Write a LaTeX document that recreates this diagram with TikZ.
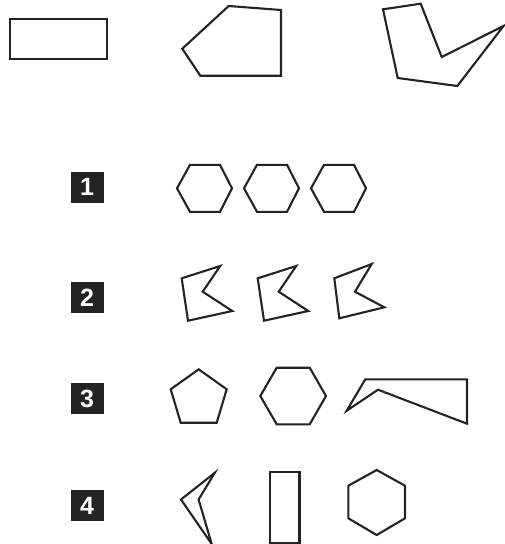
\documentclass[tikz,border=0pt]{standalone}
\usepackage{fontspec}
\setsansfont{Liberation Sans}
\definecolor{inkgray}{RGB}{35,35,35}
\tikzset{
  shape line/.style={line width=2.1pt,draw=inkgray},
  item label/.style={
    fill=inkgray,
    text=white,
    minimum width=33pt,
    minimum height=31pt,
    inner sep=0pt,
    font=\sffamily\bfseries\fontsize{25}{25}\selectfont
  }
}
\newcommand{\flathex}[2]{%
  \draw[shape line] (#1,#2) -- ++(13,-23.5) -- ++(30,0) -- ++(12,23.5)
    -- ++(-12,23.5) -- ++(-30,0) -- cycle;%
}
\newcommand{\bentkite}[2]{%
  \begin{scope}[shift={(#1,#2)}]
    \draw[shape line] (0,0) -- (38.5,-12.3) -- (21,13.4) -- (50.6,32.7)
      -- (6.3,42.4) -- cycle;
  \end{scope}%
}
\begin{document}
\begin{tikzpicture}[x=1pt,y=-1pt]
  \useasboundingbox (0,0) rectangle (504,544);

  % top row
  \draw[shape line] (10,19) rectangle (107,59);
  \draw[shape line] (228.7,6) -- (281,10) -- (281,75.7) -- (200.3,75.7)
    -- (182.3,48.7) -- cycle;
  \draw[shape line] (383,9.3) -- (420.7,3.7) -- (441.7,57) -- (503.5,26)
    -- (457.3,86) -- (397.7,78) -- cycle;

  % labels
  \node[item label] (lab1) at (87,187) {1};
  \node[item label] (lab2) at (87,297.5) {2};
  \node[item label] (lab3) at (87,398.5) {3};
  \node[item label] (lab4) at (87,505.5) {4};

  % row 1
  \foreach \x in {177,244,311} {
    \flathex{\x}{188.3}
  }

  % row 2
  \bentkite{181.7}{278.3}
  \bentkite{257.7}{278.3}
  \draw[shape line] (334.3,278.3) -- (371.7,264) -- (355,291.7) -- (384.3,307.3)
    -- (339.3,318.3) -- cycle;

  % row 3
  \draw[shape line] (198.7,369.3) -- (226.7,389.3) -- (216.7,422.7)
    -- (180.7,422.7) -- (170.7,389.3) -- cycle;
  \draw[shape line] (260.3,396) -- (276.7,367.7) -- (309.7,367.7) -- (326,396)
    -- (309.7,424.3) -- (276.7,424.3) -- cycle;
  \draw[shape line] (365.3,379.3) -- (467,379.3) -- (467,423.7) -- (378,389.7)
    -- (346.7,410.7) -- cycle;

  % row 4
  \draw[shape line] (214.8,472.8) -- (181,499.5) -- (211.7,544) -- (198.6,499.5)
    -- cycle;
  \draw[shape line] (270,472) rectangle (299.5,543.3);
  \draw[shape line] (376.7,470) -- (405,485.7) -- (405,518.3) -- (376.7,535)
    -- (348.3,518.3) -- (348.3,485.7) -- cycle;
\end{tikzpicture}
\end{document}
